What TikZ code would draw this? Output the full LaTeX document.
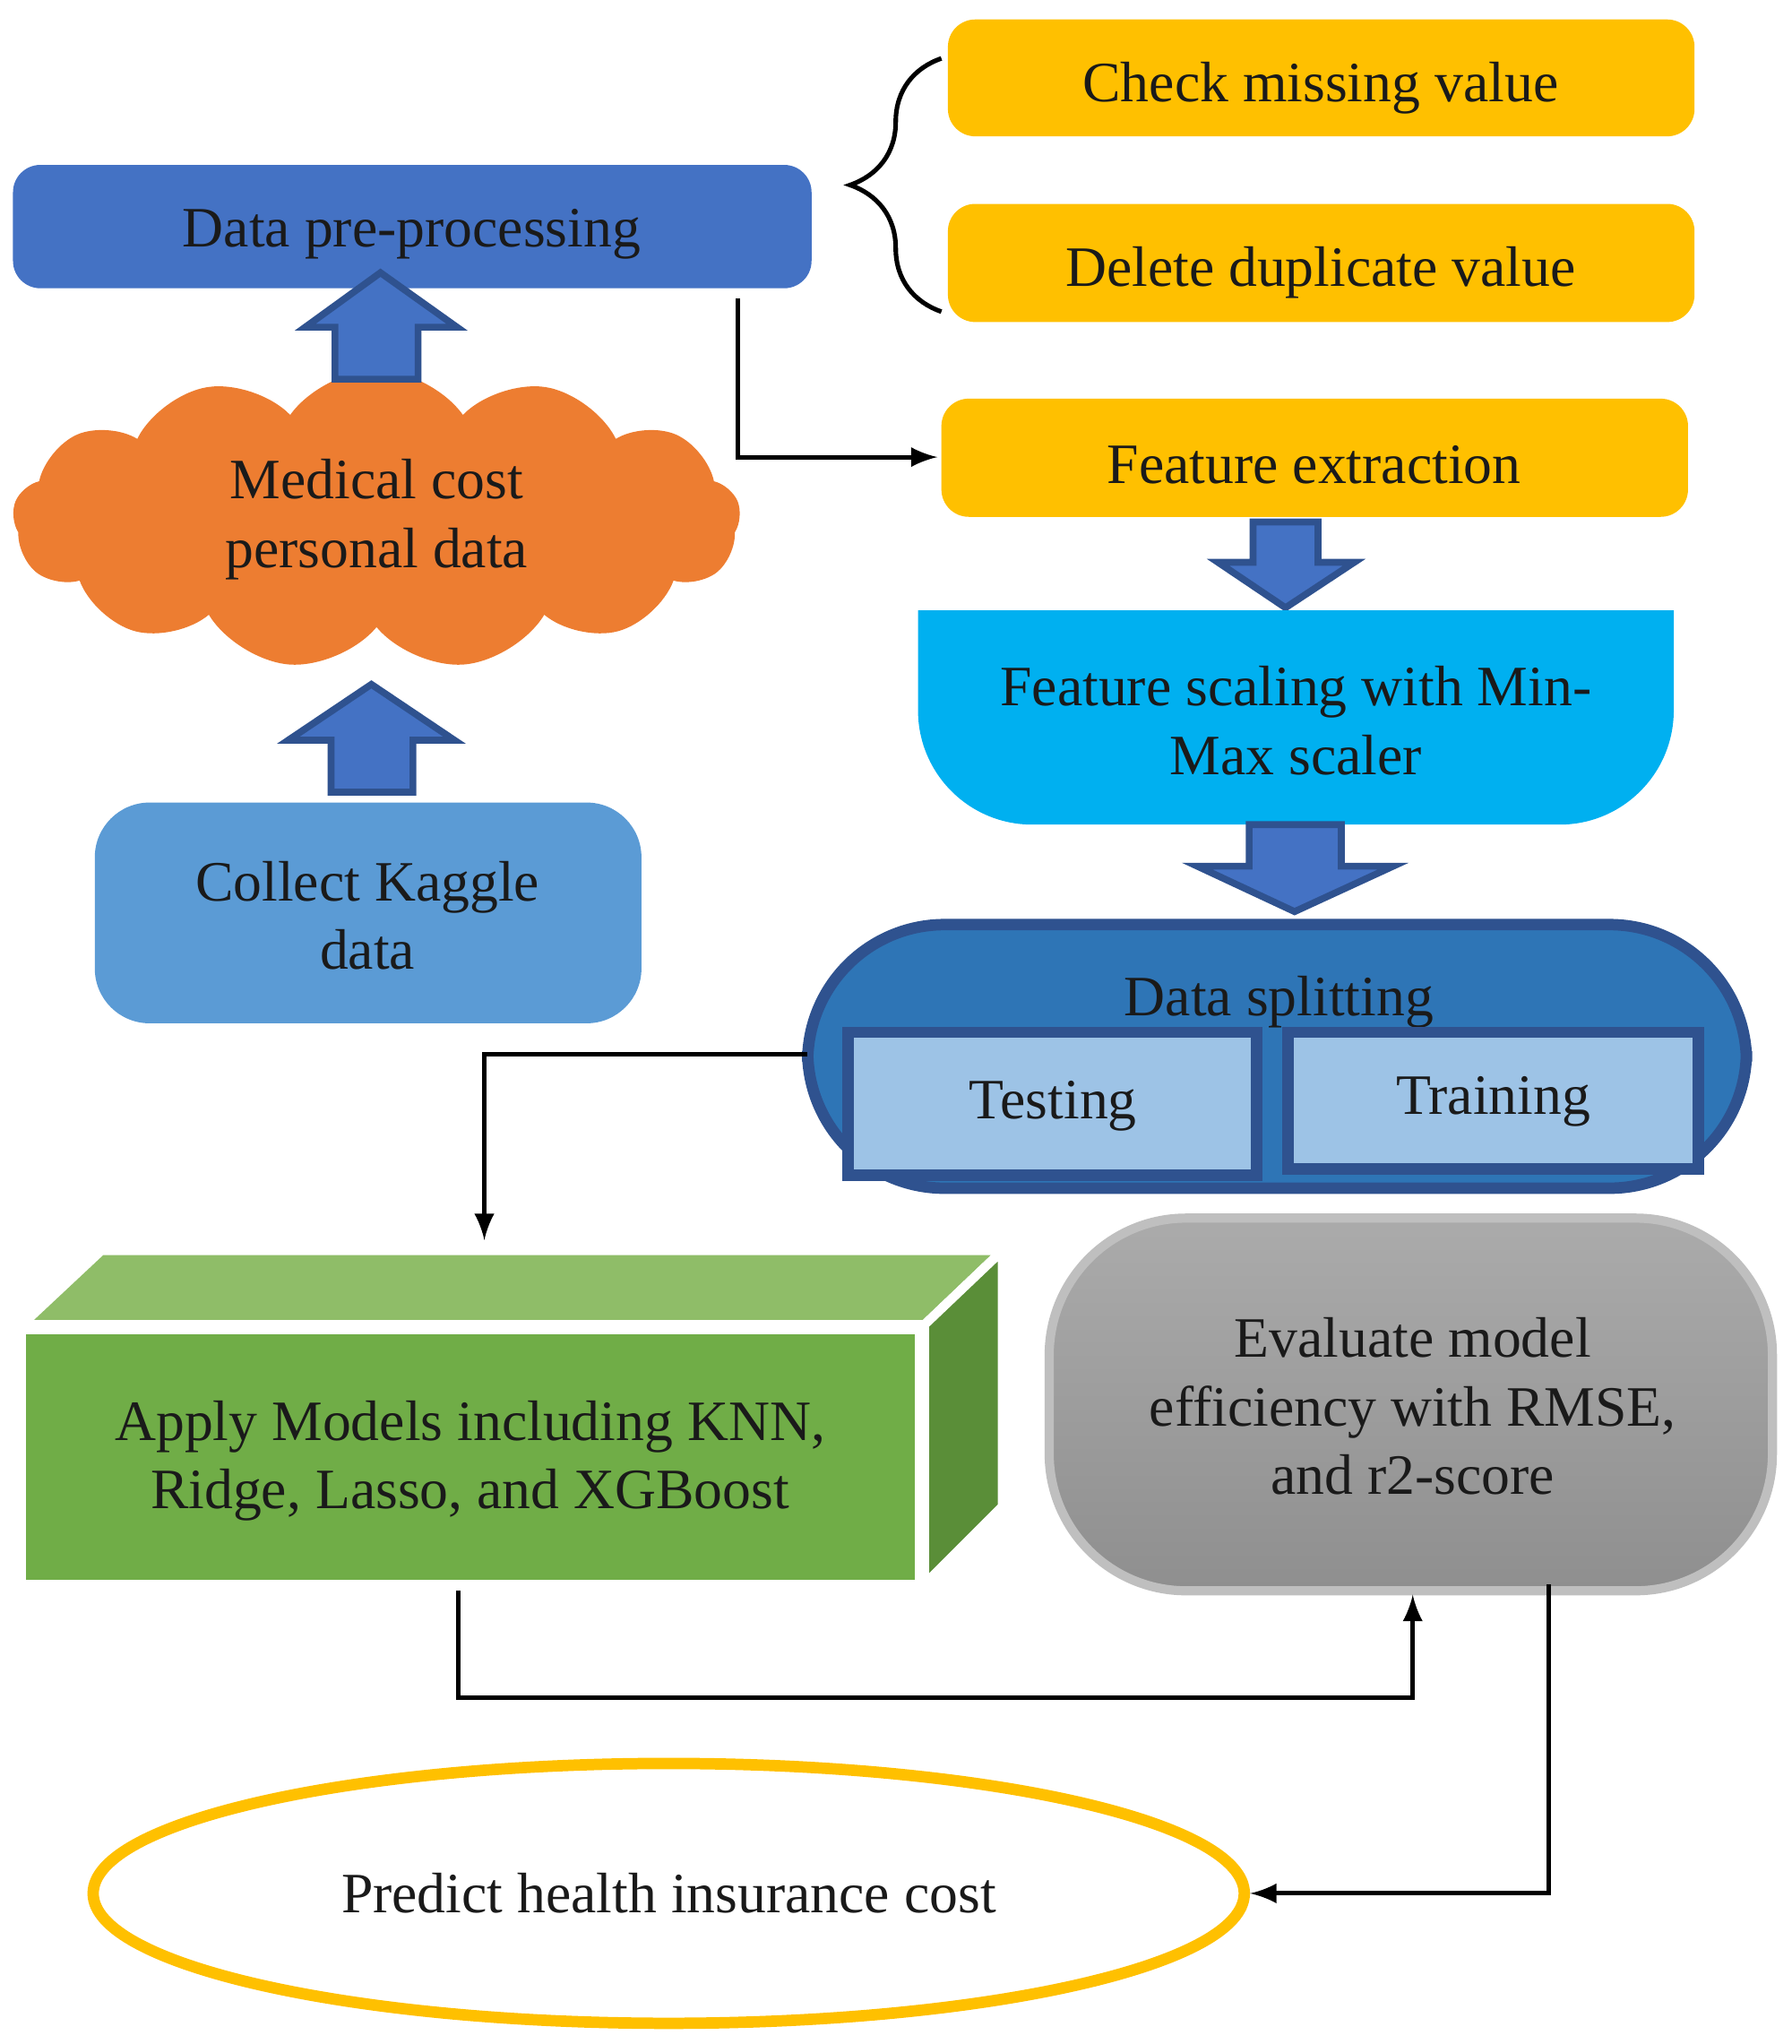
\documentclass[tikz,border=0pt]{standalone}
\usepackage{fontspec}
\setmainfont{Liberation Serif}
\usetikzlibrary{shapes.symbols,shapes.geometric,decorations.pathreplacing}
\definecolor{blueA}{HTML}{4472C4}
\definecolor{blueB}{HTML}{2F528F}
\definecolor{gold}{HTML}{FFC000}
\definecolor{orng}{HTML}{ED7D31}
\definecolor{kaggle}{HTML}{5B9BD5}
\definecolor{cyanB}{HTML}{00B0F0}
\definecolor{splitB}{HTML}{2E75B6}
\definecolor{lightB}{HTML}{9DC3E6}
\definecolor{grnF}{HTML}{70AD47}
\definecolor{grnT}{HTML}{8FBD68}
\definecolor{grnS}{HTML}{5A8E38}
\definecolor{txt}{HTML}{1A1A1A}
\begin{document}
\begin{tikzpicture}[
        x=0.01cm, y=-0.01cm,
        every node/.style={font=\fontsize{12.5}{15}\selectfont, text=txt, align=center},
        yellowbox/.style={fill=gold, rounded corners=6pt},
        blockarrow/.style={fill=blueA, draw=blueB, line width=1.5pt},
        conn/.style={-latex, line width=1pt, black}
    ]
        \useasboundingbox (0,0) rectangle (1380,1574);

        % top row
        \fill [blueA, rounded corners=6pt] (10,127) rectangle (625,222);
        \node (prep) at (317,180) {Data pre-processing};
        \fill [yellowbox] (730,15) rectangle (1305,105);
        \node (miss) at (1017,68) {Check missing value};
        \fill [yellowbox] (730,157) rectangle (1305,248);
        \node (dup) at (1017,210) {Delete duplicate value};
        \draw [decorate, decoration={brace, amplitude=20pt}, line width=1pt]
            (725,240) -- (725,45);
        \fill [yellowbox] (725,307) rectangle (1300,398);
        \node (featx) at (1012,358) {Feature extraction};
        \coordinate (prepout) at (568,230);
        \coordinate (featin) at (722,352);
        \draw [conn] (prepout) |- (featin);

        % cloud and left column
        \node (cloud) [cloud, cloud puffs=13, cloud puff arc=110, aspect=2.4, fill=orng,
            minimum width=5.6cm, minimum height=2.3cm, inner sep=0pt] at (290,400)
            {Medical cost\\personal data};
        \draw [blockarrow] (258,292) -- (258,252) -- (235,252) -- (293,210) -- (352,252)
            -- (322,252) -- (322,292) -- cycle;
        \fill [kaggle, rounded corners=12pt] (73,618) rectangle (494,788);
        \node (kaggle) at (283,705) {Collect Kaggle\\data};
        \draw [blockarrow] (255,610) -- (255,570) -- (222,570) -- (286,527) -- (350,570)
            -- (318,570) -- (318,610) -- cycle;

        % right column
        \draw [blockarrow] (965,402) -- (965,433) -- (938,433) -- (990,468) -- (1043,433)
            -- (1015,433) -- (1015,402) -- cycle;
        \fill [cyanB] (707,470) -- (1289,470) {[rounded corners=25pt] -- (1289,635) -- (707,635)} -- cycle;
        \node (scale) at (998,555) {Feature scaling with Min-\\Max scaler};
        \draw [blockarrow] (962,635) -- (962,667) -- (922,667) -- (997,702) -- (1073,667)
            -- (1033,667) -- (1033,635) -- cycle;
        \draw [fill=splitB, draw=blueB, line width=2.5pt, rounded corners=30pt]
            (622,712) rectangle (1345,915);
        \node (split) at (985,772) {Data splitting};
        \draw [fill=lightB, draw=blueB, line width=2.5pt] (653,795) rectangle (968,905);
        \node (test) at (811,852) {Testing};
        \draw [fill=lightB, draw=blueB, line width=2.5pt] (992,795) rectangle (1308,900);
        \node (train) at (1150,848) {Training};
        \coordinate (splitout) at (622,812);
        \coordinate (modelin) at (373,955);
        \draw [conn] (splitout) -| (modelin);

        % models box
        \draw [fill=grnT, draw=white, line width=2pt] (15,1022) -- (78,963) -- (772,963) -- (710,1022) -- cycle;
        \draw [fill=grnS, draw=white, line width=2pt] (710,1022) -- (772,963) -- (772,1160) -- (710,1222) -- cycle;
        \draw [fill=grnF, draw=white, line width=3pt] (15,1022) rectangle (710,1222);
        \node (models) at (362,1125) {Apply Models including KNN,\\Ridge, Lasso, and XGBoost};

        % evaluation
        \shade [top color=black!33, bottom color=black!44, rounded corners=30pt]
            (808,938) rectangle (1365,1225);
        \draw [draw=black!25, line width=2pt, rounded corners=30pt] (808,938) rectangle (1365,1225);
        \node (eval) at (1088,1083) {Evaluate model\\efficiency with RMSE,\\and r2-score};
        \coordinate (modelout) at (353,1225);
        \coordinate (evalin) at (1088,1228);
        \coordinate (evalout) at (1193,1220);
        \draw [conn] (modelout) -- (353,1307) -| (evalin);

        % prediction
        \node (pred) [ellipse, draw=gold, line width=2.5pt, fill=white,
            minimum width=8.86cm, minimum height=2cm] at (515,1458)
            {Predict health insurance cost};
        \draw [conn] (evalout) |- (pred.east);
    \end{tikzpicture}
\end{document}
